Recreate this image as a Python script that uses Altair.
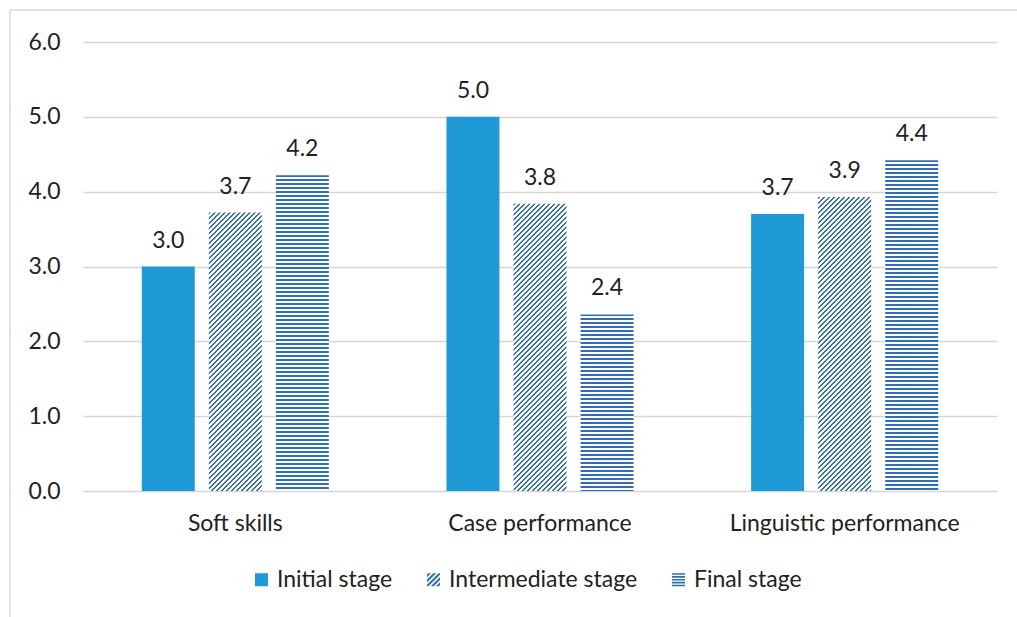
import altair as alt
import pandas as pd

# ---- data -------------------------------------------------------------
CATEGORIES = ["Soft skills", "Case performance", "Linguistic performance"]
STAGES = ["Initial stage", "Intermediate stage", "Final stage"]
INITIAL = [3.0, 5.0, 3.70]
INTERMEDIATE = [3.72, 3.84, 3.93]
FINAL = [4.22, 2.36, 4.42]
Y_TICKS = [0, 1, 2, 3, 4, 5, 6]

# ---- style ------------------------------------------------------------
SOLID = "#1E9AD6"
HATCH = "#2F6EB5"
TEXT = "#222222"
GRID = "#D6D6D6"
FRAME = "#D9D9D9"
FONT = "Lato"
FS = 23

PAD_L, PAD_T = 83, 42
W, H = 914, 449
PAD_R = 1017 - PAD_L - W
PAD_B = 617 - PAD_T - H
Y_MAX = 6

X_PAD_INNER, X_PAD_OUTER = 0.386, 0.193
OFF_PAD_INNER = 0.21

# bar width in pixels, from the two band scales
step = W / (len(CATEGORIES) - X_PAD_INNER + 2 * X_PAD_OUTER)
group_w = step * (1 - X_PAD_INNER)
bar_w = group_w / (len(STAGES) - OFF_PAD_INNER) * (1 - OFF_PAD_INNER)


def stripe_stops(length, period, ink):
    """Hard colour stops giving ink/white stripes along a gradient of `length` px."""
    stops = []
    pos = 0.0
    while pos < length:
        a = pos / length
        b = min((pos + ink) / length, 1.0)
        c = min((pos + period) / length, 1.0)
        stops += [
            alt.GradientStop(offset=a, color=HATCH),
            alt.GradientStop(offset=b, color=HATCH),
            alt.GradientStop(offset=b, color="#FFFFFF"),
            alt.GradientStop(offset=c, color="#FFFFFF"),
        ]
        pos += period
    return stops


def diagonal_fill(value):
    """'////' hatching for a bar of the given value."""
    h = value * H / Y_MAX
    r = h / bar_w
    x2 = (1 + r) / (1 + r * r)
    return alt.LinearGradient(
        gradient="linear", x1=0, y1=0, x2=x2, y2=r * x2,
        stops=stripe_stops(bar_w + h, 5.0, 2.4),
    )


def horizontal_fill(value):
    """Horizontal line hatching for a bar of the given value."""
    h = value * H / Y_MAX
    return alt.LinearGradient(
        gradient="linear", x1=0, y1=0, x2=0, y2=1,
        stops=stripe_stops(h, 4.0, 2.0),
    )


# ---- legend symbol paths (unit square -1..1) ---------------------------
def clip(poly, a, b, c):
    out = []
    n = len(poly)
    for i in range(n):
        p, q = poly[i], poly[(i + 1) % n]
        fp = a * p[0] + b * p[1] - c
        fq = a * q[0] + b * q[1] - c
        if fp <= 0:
            out.append(p)
        if fp * fq < 0:
            t = fp / (fp - fq)
            out.append((p[0] + t * (q[0] - p[0]), p[1] + t * (q[1] - p[1])))
    return out


def poly_path(poly):
    pts = " L".join(f"{x:.3f},{y:.3f}" for x, y in poly)
    return f"M{pts} Z"


square = [(-1, -1), (1, -1), (1, 1), (-1, 1)]
diag_parts = []
for centre in [-1.6, -0.8, 0.0, 0.8, 1.6]:
    band = clip(square, 1, 1, centre + 0.22)
    band = clip(band, -1, -1, -(centre - 0.22))
    if len(band) >= 3:
        diag_parts.append(poly_path(band))
DIAG_PATH = " ".join(diag_parts)

horiz_parts = []
for top in [-1.0, -0.56, -0.12, 0.32, 0.76]:
    horiz_parts.append(f"M-1,{top:.2f} H1 V{top + 0.24:.2f} H-1 Z")
HORIZ_PATH = " ".join(horiz_parts)

# ---- table ------------------------------------------------------------
rows = []
for stage, vals in zip(STAGES, [INITIAL, INTERMEDIATE, FINAL]):
    for cat, v in zip(CATEGORIES, vals):
        rows.append({"category": cat, "stage": stage, "value": v})
df = pd.DataFrame(rows)

x_enc = alt.X(
    "category:N",
    sort=CATEGORIES,
    scale=alt.Scale(domain=CATEGORIES, paddingInner=X_PAD_INNER, paddingOuter=X_PAD_OUTER),
    axis=alt.Axis(
        title=None, labelAngle=0, labelFont=FONT, labelFontSize=FS, labelColor=TEXT,
        labelPadding=21, labelLimit=0, ticks=False, domain=False, grid=False,
    ),
)
off_enc = alt.XOffset(
    "stage:N",
    sort=STAGES,
    scale=alt.Scale(domain=STAGES, paddingInner=OFF_PAD_INNER, paddingOuter=0),
)
y_enc = alt.Y(
    "value:Q",
    scale=alt.Scale(domain=[0, Y_MAX], nice=False),
    axis=alt.Axis(
        title=None, values=Y_TICKS, format=".1f", labelFont=FONT, labelFontSize=FS,
        labelColor=TEXT, labelPadding=23, ticks=False, domain=False,
        grid=True, gridColor=GRID, gridWidth=1.5,
    ),
)

base = alt.Chart(df).encode(x=x_enc, xOffset=off_enc, y=y_enc)

layers = []

# outer frame
frame = alt.Chart(pd.DataFrame({"k": [0]})).mark_rect(
    fillOpacity=0, stroke=FRAME, strokeWidth=1.5
).encode(
    x=alt.value(10 - PAD_L), x2=alt.value(W + 200),
    y=alt.value(10 - PAD_T), y2=alt.value(H + 300),
)
layers.append(frame)

# solid bars
layers.append(
    base.transform_filter(alt.datum.stage == STAGES[0]).mark_bar(color=SOLID)
)

# hatched bars
for cat, v in zip(CATEGORIES, INTERMEDIATE):
    layers.append(
        base.transform_filter((alt.datum.stage == STAGES[1]) & (alt.datum.category == cat))
        .mark_bar(fill=diagonal_fill(v))
    )
for cat, v in zip(CATEGORIES, FINAL):
    layers.append(
        base.transform_filter((alt.datum.stage == STAGES[2]) & (alt.datum.category == cat))
        .mark_bar(fill=horizontal_fill(v))
    )

# value labels
layers.append(
    base.mark_text(
        font=FONT, fontSize=FS, color=TEXT, baseline="alphabetic", dy=-19
    ).encode(text=alt.Text("value:Q", format=".1f"))
)

# legend
legend = alt.Legend(
    title=None, orient="none", direction="horizontal", legendX=167, legendY=526,
    labelFont=FONT, labelFontSize=FS, labelColor=TEXT, labelOffset=4, labelLimit=0,
    columnPadding=29, symbolSize=169, symbolStrokeWidth=0, symbolOpacity=1,
)
legend_layer = alt.Chart(pd.DataFrame({"stage": STAGES})).transform_filter(
    "false"
).mark_point(filled=True, opacity=1).encode(
    color=alt.Color("stage:N", scale=alt.Scale(domain=STAGES, range=[SOLID, HATCH, HATCH]), legend=legend),
    shape=alt.Shape("stage:N", scale=alt.Scale(domain=STAGES, range=["square", DIAG_PATH, HORIZ_PATH]), legend=legend),
)
layers.append(legend_layer)

chart = alt.layer(*layers).properties(
    width=W,
    height=H,
    padding={"left": PAD_L, "top": PAD_T, "right": PAD_R, "bottom": PAD_B},
    autosize=alt.AutoSizeParams(type="none"),
    background="#FFFFFF",
).configure_view(stroke="transparent")

chart.save("out.html", embed_options={"renderer": "svg", "actions": False})
